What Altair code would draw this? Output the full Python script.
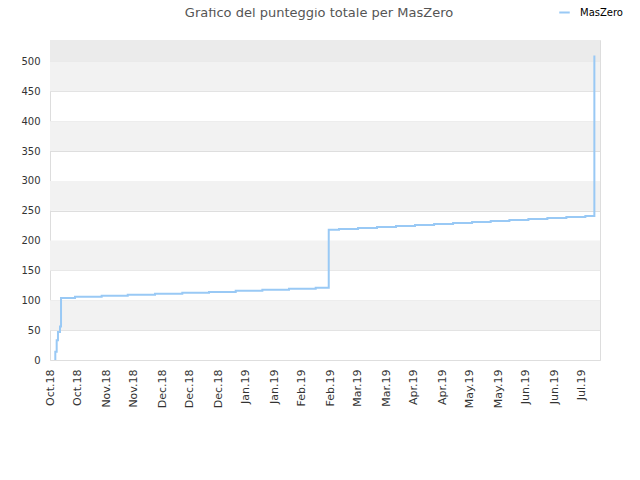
import altair as alt
import pandas as pd

# ---- data ----
step_dates = [
    "2018-10-07T10:00", "2018-10-07T18:00", "2018-10-08T11:00", "2018-10-09T03:00",
    "2018-10-10T04:00", "2018-10-10T17:00", "2018-10-17T23:00", "2018-10-31T18:00",
    "2018-11-14T06:00", "2018-11-28T09:00", "2018-12-12T12:00", "2018-12-26T08:00",
    "2019-01-09T04:00", "2019-01-22T23:00", "2019-02-05T18:00", "2019-02-19T14:00",
    "2019-02-26T08:00", "2019-03-03T16:00", "2019-03-13T12:00", "2019-03-23T08:00",
    "2019-04-02T04:00", "2019-04-12T00:00", "2019-04-21T21:00", "2019-05-01T17:00",
    "2019-05-11T13:00", "2019-05-21T05:00", "2019-05-30T21:00", "2019-06-09T17:00",
    "2019-06-19T13:00", "2019-06-29T09:00", "2019-07-09T05:00", "2019-07-13T21:00",
]
step_scores = [
    0, 14, 33, 47,
    56, 104, 106, 107.5,
    109.5, 111, 112.5, 114,
    115.8, 117.5, 119.2, 121,
    218, 219.6, 221.2, 222.9,
    224.6, 226.3, 228, 229.6,
    231.3, 233, 234.6, 236.3,
    238, 239.6, 241.3, 510,
]
series_name = "MasZero"
tick_dates = [
    "2018-10-05", "2018-10-19", "2018-11-03", "2018-11-17", "2018-12-02",
    "2018-12-16", "2018-12-31", "2019-01-14", "2019-01-29", "2019-02-12",
    "2019-02-27", "2019-03-13", "2019-03-28", "2019-04-11", "2019-04-26",
    "2019-05-10", "2019-05-25", "2019-06-08", "2019-06-23", "2019-07-07",
]
x_domain = ["2018-10-05T00:00", "2019-07-16T19:00"]
y_ticks = [0, 50, 100, 150, 200, 250, 300, 350, 400, 450, 500]
y_max = 536
band_lo = [50, 150, 250, 350, 450, 500]
band_hi = [100, 200, 300, 400, 500, 536]
band_kind = ["a", "a", "a", "a", "a", "b"]
title_text = "Grafico del punteggio totale per MasZero"


def ms(s):
    return int(pd.Timestamp(s, tz="UTC").value // 10**6)


df = pd.DataFrame({
    "t": [ms(d) for d in step_dates],
    "score": step_scores,
    "serie": [series_name] * len(step_dates),
})
bands = pd.DataFrame({"lo": band_lo, "hi": band_hi, "kind": band_kind})

FONT = "DejaVu Sans"
W, H = 550, 320

x_scale = alt.Scale(type="utc", domain=[ms(d) for d in x_domain])
y_scale = alt.Scale(domain=[0, y_max], nice=False)

y_axis = alt.Axis(
    title=None,
    values=y_ticks,
    labelFont=FONT,
    labelFontSize=10,
    labelColor="#333333",
    labelPadding=10,
    ticks=False,
    domain=False,
    grid=True,
    gridColor="#dedede",
    gridWidth=1,
)

band_layer = alt.Chart(bands).mark_rect().encode(
    x=alt.value(0),
    x2=alt.value(W),
    y=alt.Y("lo:Q", scale=y_scale, axis=y_axis),
    y2="hi:Q",
    color=alt.Color("kind:N", scale=alt.Scale(domain=["a", "b"], range=["#f2f2f2", "#ebebeb"]), legend=None),
)

line_layer = alt.Chart(df).mark_line(interpolate="step-after", strokeWidth=2, clip=True).encode(
    x=alt.X(
        "t:T",
        scale=x_scale,
        axis=alt.Axis(
            title=None,
            values=[ms(d) for d in tick_dates],
            labelExpr="utcFormat(datum.value, '%b.%y')",
            labelAngle=-90,
            labelFont=FONT,
            labelFontSize=11,
            labelColor="#333333",
            labelPadding=9,
            ticks=False,
            domain=False,
            grid=False,
            labelOverlap=False,
        ),
    ),
    y=alt.Y("score:Q", scale=y_scale, axis=y_axis),
    color=alt.Color(
        "serie:N",
        scale=alt.Scale(range=["#99c9f5"]),
        legend=alt.Legend(
            title=None,
            orient="none",
            legendX=508,
            legendY=-34,
            symbolType="stroke",
            symbolSize=110,
            symbolStrokeWidth=2,
            labelFont=FONT,
            labelFontSize=10,
            labelColor="#000000",
            labelOffset=9,
            labelLimit=200,
        ),
    ),
)

chart = alt.layer(band_layer, line_layer).resolve_scale(color="independent").properties(
    width=W,
    height=H,
    padding={"left": 42, "top": 32, "right": 32, "bottom": 112},
    autosize=alt.AutoSizeParams(type="none"),
    title=alt.TitleParams(
        title_text,
        font=FONT,
        fontSize=13,
        fontWeight="normal",
        color="#555555",
        anchor="middle",
        dx=-6,
        offset=-14,
    ),
).configure_view(stroke="#d6d6d6", strokeWidth=1).configure(background="white")

chart.save("out.html", embed_options={"renderer": "svg", "actions": False})
